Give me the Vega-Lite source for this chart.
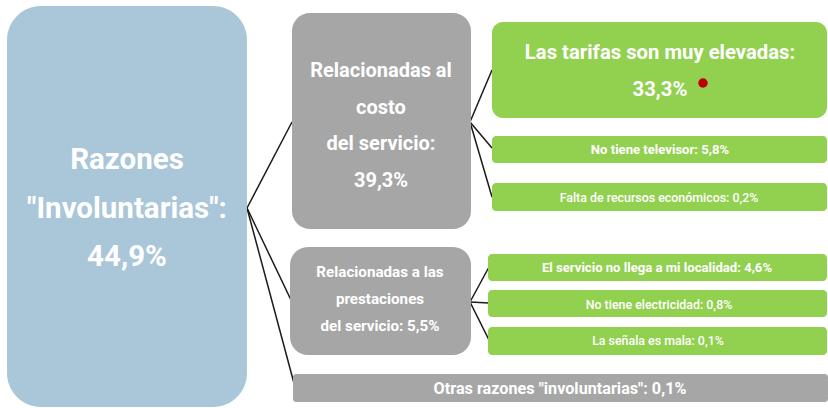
{
  "$schema": "https://vega.github.io/schema/vega-lite/v6.json",
  "width": 828,
  "height": 408,
  "padding": 0,
  "autosize": {"type": "none"},
  "background": "#ffffff",
  "config": {"view": {"stroke": null}},
  "datasets": {
    "boxes": [
      {"id": "root", "kind": "root", "label": ["Razones", "\"Involuntarias\":", "44,9%"], "x0": 7, "x1": 247, "y0": 6, "y1": 407, "tx": 127, "ty": 160},
      {"id": "costo", "kind": "mid", "label": ["Relacionadas al", "costo", "del servicio:", "39,3%"], "x0": 292, "x1": 471, "y0": 13, "y1": 229, "tx": 381, "ty": 71},
      {"id": "prest", "kind": "mid2", "label": ["Relacionadas a las", "prestaciones", "del servicio: 5,5%"], "x0": 290, "x1": 471, "y0": 247, "y1": 355, "tx": 380, "ty": 272},
      {"id": "otras", "kind": "other", "label": "Otras razones \"involuntarias\": 0,1%", "x0": 293, "x1": 828, "y0": 374, "y1": 402, "tx": 560, "ty": 389},
      {"id": "tarifas", "kind": "leafbig", "label": ["Las tarifas son muy elevadas:", "33,3%"], "x0": 492, "x1": 827, "y0": 22, "y1": 118, "tx": 660, "ty": 53},
      {"id": "tv", "kind": "leafb", "label": "No tiene televisor: 5,8%", "x0": 492, "x1": 827, "y0": 136, "y1": 163, "tx": 660, "ty": 150},
      {"id": "recursos", "kind": "leafr", "label": "Falta de recursos económicos: 0,2%", "x0": 492, "x1": 827, "y0": 183, "y1": 211, "tx": 659, "ty": 198},
      {"id": "llega", "kind": "leafb", "label": "El servicio no llega a mi localidad: 4,6%", "x0": 488, "x1": 827, "y0": 254, "y1": 281, "tx": 657, "ty": 268},
      {"id": "elec", "kind": "leafr", "label": "No tiene electricidad: 0,8%", "x0": 488, "x1": 827, "y0": 290, "y1": 317, "tx": 659, "ty": 305},
      {"id": "senal", "kind": "leafr", "label": "La señala es mala: 0,1%", "x0": 488, "x1": 827, "y0": 327, "y1": 355, "tx": 658, "ty": 341}
    ],
    "links": [
      {"from": "root", "to": "costo", "x": 247, "y": 208, "x2": 292, "y2": 122},
      {"from": "root", "to": "prest", "x": 247, "y": 208, "x2": 291, "y2": 300},
      {"from": "root", "to": "otras", "x": 247, "y": 208, "x2": 295, "y2": 387},
      {"from": "costo", "to": "tarifas", "x": 470, "y": 122, "x2": 492, "y2": 70},
      {"from": "costo", "to": "tv", "x": 470, "y": 122, "x2": 492, "y2": 148},
      {"from": "costo", "to": "recursos", "x": 470, "y": 122, "x2": 492, "y2": 197},
      {"from": "prest", "to": "llega", "x": 470, "y": 302, "x2": 489, "y2": 267},
      {"from": "prest", "to": "elec", "x": 470, "y": 302, "x2": 489, "y2": 303},
      {"from": "prest", "to": "senal", "x": 470, "y": 302, "x2": 489, "y2": 340}
    ],
    "marker": [
      {"id": "dot", "x": 703, "y": 83}
    ]
  },
  "layer": [
    {
      "data": {"name": "links"},
      "mark": {"type": "rule", "color": "#1a1a1a", "strokeWidth": 1.5},
      "encoding": {
        "x": {"field": "x", "type": "quantitative", "scale": {"domain": [0, 828], "nice": false, "zero": false}, "axis": null},
        "y": {"field": "y", "type": "quantitative", "scale": {"domain": [0, 408], "nice": false, "zero": false, "reverse": true}, "axis": null},
        "x2": {"field": "x2"},
        "y2": {"field": "y2"}
      }
    },
    {
      "data": {"name": "boxes"},
      "transform": [{"filter": "datum.kind === 'root'"}],
      "mark": {"type": "rect", "color": "#aac6d9", "cornerRadius": 34},
      "encoding": {
        "x": {"field": "x0", "type": "quantitative"},
        "x2": {"field": "x1"},
        "y": {"field": "y0", "type": "quantitative"},
        "y2": {"field": "y1"}
      }
    },
    {
      "data": {"name": "boxes"},
      "transform": [{"filter": "datum.kind === 'mid' || datum.kind === 'mid2'"}],
      "mark": {"type": "rect", "color": "#a6a6a6", "cornerRadius": 18},
      "encoding": {
        "x": {"field": "x0", "type": "quantitative"},
        "x2": {"field": "x1"},
        "y": {"field": "y0", "type": "quantitative"},
        "y2": {"field": "y1"}
      }
    },
    {
      "data": {"name": "boxes"},
      "transform": [{"filter": "datum.kind === 'other'"}],
      "mark": {"type": "rect", "color": "#a6a6a6", "cornerRadius": 3},
      "encoding": {
        "x": {"field": "x0", "type": "quantitative"},
        "x2": {"field": "x1"},
        "y": {"field": "y0", "type": "quantitative"},
        "y2": {"field": "y1"}
      }
    },
    {
      "data": {"name": "boxes"},
      "transform": [{"filter": "datum.kind === 'leafbig'"}],
      "mark": {"type": "rect", "color": "#92d050", "cornerRadius": 11},
      "encoding": {
        "x": {"field": "x0", "type": "quantitative"},
        "x2": {"field": "x1"},
        "y": {"field": "y0", "type": "quantitative"},
        "y2": {"field": "y1"}
      }
    },
    {
      "data": {"name": "boxes"},
      "transform": [{"filter": "datum.kind === 'leafb' || datum.kind === 'leafr'"}],
      "mark": {"type": "rect", "color": "#92d050", "cornerRadius": 4},
      "encoding": {
        "x": {"field": "x0", "type": "quantitative"},
        "x2": {"field": "x1"},
        "y": {"field": "y0", "type": "quantitative"},
        "y2": {"field": "y1"}
      }
    },
    {
      "data": {"name": "boxes"},
      "transform": [{"filter": "datum.kind === 'root'"}],
      "mark": {"type": "text", "color": "#ffffff", "font": "Roboto", "fontWeight": "bold", "fontSize": 29.5, "lineHeight": 48.5, "align": "center", "baseline": "middle"},
      "encoding": {
        "x": {"field": "tx", "type": "quantitative"},
        "y": {"field": "ty", "type": "quantitative"},
        "text": {"field": "label"}
      }
    },
    {
      "data": {"name": "boxes"},
      "transform": [{"filter": "datum.kind === 'mid'"}],
      "mark": {"type": "text", "color": "#ffffff", "font": "Roboto", "fontWeight": "bold", "fontSize": 20, "lineHeight": 36.5, "align": "center", "baseline": "middle"},
      "encoding": {
        "x": {"field": "tx", "type": "quantitative"},
        "y": {"field": "ty", "type": "quantitative"},
        "text": {"field": "label"}
      }
    },
    {
      "data": {"name": "boxes"},
      "transform": [{"filter": "datum.kind === 'leafbig'"}],
      "mark": {"type": "text", "color": "#ffffff", "font": "Roboto", "fontWeight": "bold", "fontSize": 20.3, "lineHeight": 37, "align": "center", "baseline": "middle"},
      "encoding": {
        "x": {"field": "tx", "type": "quantitative"},
        "y": {"field": "ty", "type": "quantitative"},
        "text": {"field": "label"}
      }
    },
    {
      "data": {"name": "boxes"},
      "transform": [{"filter": "datum.kind === 'mid2'"}],
      "mark": {"type": "text", "color": "#ffffff", "font": "Roboto", "fontWeight": "bold", "fontSize": 15.2, "lineHeight": 27, "align": "center", "baseline": "middle"},
      "encoding": {
        "x": {"field": "tx", "type": "quantitative"},
        "y": {"field": "ty", "type": "quantitative"},
        "text": {"field": "label"}
      }
    },
    {
      "data": {"name": "boxes"},
      "transform": [{"filter": "datum.kind === 'other'"}],
      "mark": {"type": "text", "color": "#ffffff", "font": "Roboto", "fontWeight": "bold", "fontSize": 16.2, "align": "center", "baseline": "middle"},
      "encoding": {
        "x": {"field": "tx", "type": "quantitative"},
        "y": {"field": "ty", "type": "quantitative"},
        "text": {"field": "label"}
      }
    },
    {
      "data": {"name": "boxes"},
      "transform": [{"filter": "datum.kind === 'leafb'"}],
      "mark": {"type": "text", "color": "#ffffff", "font": "Roboto", "fontWeight": "bold", "fontSize": 13.1, "align": "center", "baseline": "middle"},
      "encoding": {
        "x": {"field": "tx", "type": "quantitative"},
        "y": {"field": "ty", "type": "quantitative"},
        "text": {"field": "label"}
      }
    },
    {
      "data": {"name": "boxes"},
      "transform": [{"filter": "datum.kind === 'leafr'"}],
      "mark": {"type": "text", "color": "#ffffff", "font": "Roboto", "fontWeight": 500, "fontSize": 12.4, "align": "center", "baseline": "middle"},
      "encoding": {
        "x": {"field": "tx", "type": "quantitative"},
        "y": {"field": "ty", "type": "quantitative"},
        "text": {"field": "label"}
      }
    },
    {
      "data": {"name": "marker"},
      "mark": {"type": "point", "filled": true, "color": "#c00000", "opacity": 1, "size": 90},
      "encoding": {
        "x": {"field": "x", "type": "quantitative"},
        "y": {"field": "y", "type": "quantitative"}
      }
    }
  ]
}
